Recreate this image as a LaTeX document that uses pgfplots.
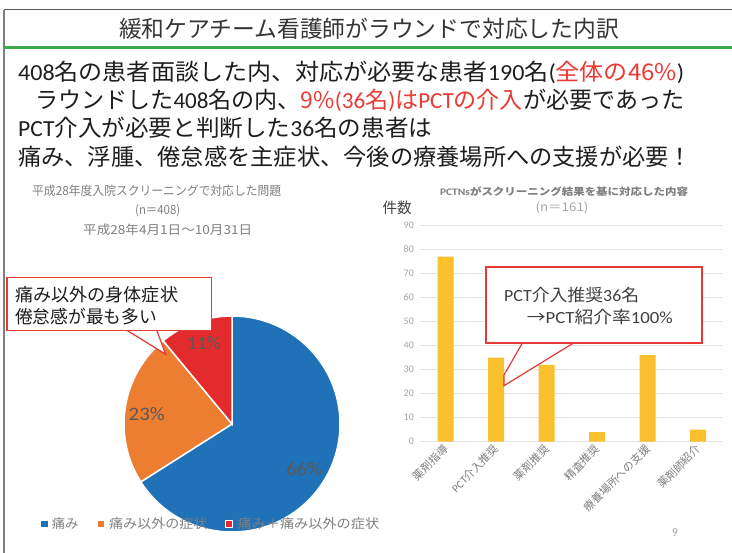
\documentclass[border=0pt]{standalone}
\usepackage{fontspec}
\setmainfont{Noto Sans CJK JP}
\newfontfamily\lat{Carlito}
\usepackage{graphicx}
\usepackage{pgfplots}
\pgfplotsset{compat=1.18}
\definecolor{pieblue}{HTML}{1F71B8}
\definecolor{pieorange}{HTML}{ED7D31}
\definecolor{piered}{HTML}{E32B2D}
\definecolor{baryellow}{HTML}{FBC02D}
\definecolor{slidegreen}{HTML}{3DAA4F}
\definecolor{callred}{HTML}{E53935}
\definecolor{txtred}{HTML}{EA3A35}
\definecolor{lgray}{HTML}{7F7F7F}
\definecolor{dgray}{HTML}{595959}
\definecolor{tgray}{HTML}{A6A6A6}
\definecolor{gridgray}{HTML}{E4E4E4}
\definecolor{txtblack}{HTML}{1E1E1E}

\newsavebox\fitbox
\newcommand\fitw[2]{\sbox\fitbox{#2}\pgfmathsetmacro\fitscale{#1/\the\wd\fitbox}\scalebox{\fitscale}[1]{\usebox\fitbox}}
\newcommand\fs[1]{\fontsize{#1}{#1}\selectfont}

% pie data (percent)
\def\vA{66}\def\vB{23}\def\vC{11}
\pgfmathsetmacro\aA{90}
\pgfmathsetmacro\aB{\aA-3.6*\vA}
\pgfmathsetmacro\aC{\aB-3.6*\vB}
\pgfmathsetmacro\aD{\aC-3.6*\vC}

\begin{document}
\begin{tikzpicture}[x=1pt,y=1pt]
\useasboundingbox (0,0) rectangle (732,553);
\fill[white] (0,0) rectangle (732,553);

% slide frame
\draw[dgray, line width=1pt] (4,543) -- (732,543);
\draw[lgray, line width=1.5pt] (4,543) -- (4,0);
\draw[slidegreen, line width=3pt] (4,505) -- (732,505);

% title
\node[inner sep=0, font=\fs{23}, text=txtblack!90] at (369,524) {\fitw{500}{緩和ケアチーム看護師がラウンドで対応した内訳}};

% main text
\node[anchor=west, inner sep=0, font=\fs{23}, text=txtblack] at (18,481)
  {\fitw{666}{{\lat 408}名の患者面談した内、対応が必要な患者{\lat 190}名{\lat (}\textcolor{txtred}{全体の46\%}{\lat )}}};
\node[anchor=west, inner sep=0, font=\fs{23}, text=txtblack] at (35,453)
  {\fitw{649}{ラウンドした{\lat 408}名の内、\textcolor{txtred}{9\%{\lat (36}名{\lat )}は{\lat PCT}の介入}が必要であった}};
\node[anchor=west, inner sep=0, font=\fs{23}, text=txtblack] at (18,425)
  {\fitw{414}{{\lat PCT}介入が必要と判断した{\lat 36}名の患者は}};
\node[anchor=west, inner sep=0, font=\fs{23}, text=txtblack] at (18,396)
  {\fitw{674}{痛み、浮腫、倦怠感を主症状、今後の療養場所への支援が必要！}};

% pie titles
\node[anchor=west, inner sep=0, font=\fs{12.5}, text=lgray] at (32,362) {\fitw{249}{平成28年度入院スクリーニングで対応した問題}};
\node[anchor=west, inner sep=0, font=\fs{12.5}, text=lgray] at (135,342) {\fitw{45}{(n＝408)}};
\node[anchor=west, inner sep=0, font=\fs{12.5}, text=lgray] at (83,323) {\fitw{169}{平成28年4月1日～10月31日}};

% pie chart
\begin{axis}[at={(232pt,129pt)}, anchor=center, scale only axis,
  width=216pt, height=216pt, xmin=-1, xmax=1, ymin=-1, ymax=1,
  hide axis, clip=false]
\filldraw[fill=pieblue, draw=white, line width=1.5pt] (axis cs:0,0) -- ++(\aA:108pt) arc[start angle=\aA, end angle=\aB, radius=108pt] -- cycle;
\filldraw[fill=pieorange, draw=white, line width=1.5pt] (axis cs:0,0) -- ++(\aB:108pt) arc[start angle=\aB, end angle=\aC, radius=108pt] -- cycle;
\filldraw[fill=piered, draw=white, line width=1.5pt] (axis cs:0,0) -- ++(\aC:108pt) arc[start angle=\aC, end angle=\aD, radius=108pt] -- cycle;
\end{axis}

% pie labels
\node[inner sep=0, font=\lat\fs{19}, text=dgray] at (304,83.7) {\fitw{36}{66\%}};
\node[inner sep=0, font=\lat\fs{19}, text=dgray] at (146.7,139) {\fitw{36}{23\%}};
\node[inner sep=0, font=\lat\fs{19}, text=dgray] at (204,209.7) {\fitw{34}{11\%}};

% pie callout
\filldraw[fill=white, draw=callred, line width=1.2pt, line join=miter] (126.7,222.8) -- (165.7,198.7) -- (156.7,222.8);
\filldraw[fill=white, draw=callred, line width=1.2pt] (7,222.3) rectangle (211.7,275.7);
\node[anchor=west, inner sep=0, font=\fs{18}, text=txtblack] at (15,258) {\fitw{163}{痛み以外の身体症状}};
\node[anchor=west, inner sep=0, font=\fs{18}, text=txtblack] at (15,236.3) {\fitw{142}{倦怠感が最も多い}};

% legend
\fill[pieblue] (41,25.7) rectangle (47.7,32.4);
\node[anchor=west, inner sep=0, font=\fs{13}, text=lgray] at (51.7,29) {\fitw{26.6}{痛み}};
\fill[pieorange] (97.7,25.7) rectangle (104.4,32.4);
\node[anchor=west, inner sep=0, font=\fs{13}, text=lgray] at (109,29) {\fitw{98.3}{痛み以外の症状}};
\filldraw[fill=piered, draw=white, line width=0.8pt] (225.8,25.5) rectangle (232.8,32.5);
\node[anchor=west, inner sep=0, font=\fs{13}, text=lgray] at (237.3,29) {\fitw{141.7}{痛み＋痛み以外の症状}};

% bar chart titles
\node[inner sep=0, font=\bfseries\fs{10}, text=lgray] at (564,361) {\fitw{248}{{\lat PCTNs}がスクリーニング結果を基に対応した内容}};
\node[inner sep=0, font=\fs{12}, text=tgray] at (562,345) {\fitw{53}{(n＝161)}};
\node[inner sep=0, font=\fs{15}, text=txtblack!85] at (397,345) {\fitw{29}{件数}};

% bar chart
\begin{axis}[at={(420.4pt,111.3pt)}, anchor=south west, scale only axis,
  width=303pt, height=216.4pt,
  xmin=-0.5, xmax=5.5, ymin=0, ymax=90,
  ytick={0,10,...,90}, xtick={0,1,2,3,4,5},
  xticklabels={薬剤指導,{\lat PCT}介入推奨,薬剤推奨,精査推奨,療養場所への支援,薬剤師紹介},
  ymajorgrids, grid style={draw=gridgray, line width=0.8pt},
  axis line style={draw=none}, tick style={draw=none},
  /pgf/number format/assume math mode=true,
  yticklabel style={font=\lat\fs{10}, text=tgray, xshift=-3pt},
  xticklabel style={font=\fs{11}, text=lgray, rotate=45, anchor=east, yshift=-4pt},
  clip=false]
\addplot[ybar, bar width=16pt, fill=baryellow, draw=none] coordinates {(0,77) (1,35) (2,32) (3,4) (4,36) (5,5)};
\end{axis}

% bar callout
\filldraw[fill=white, draw=callred, line width=1.2pt, line join=miter] (522.7,210.5) -- (504,178) -- (504,167.3) -- (574.3,210.5);
\filldraw[fill=white, draw=callred, line width=1.2pt] (486,210) rectangle (702,286);
\node[anchor=west, inner sep=0, font=\fs{17}, text=txtblack!85] at (504,258) {\fitw{135}{{\lat PCT}介入推奨{\lat 36}名}};
\node[anchor=west, inner sep=0, font=\fs{17}, text=txtblack!85] at (526.7,236) {\fitw{146}{→{\lat PCT}紹介率{\lat 100\%}}};

% page number
\node[inner sep=0, font=\lat\fs{12}, text=tgray] at (675,20) {9};
\end{tikzpicture}
\end{document}
